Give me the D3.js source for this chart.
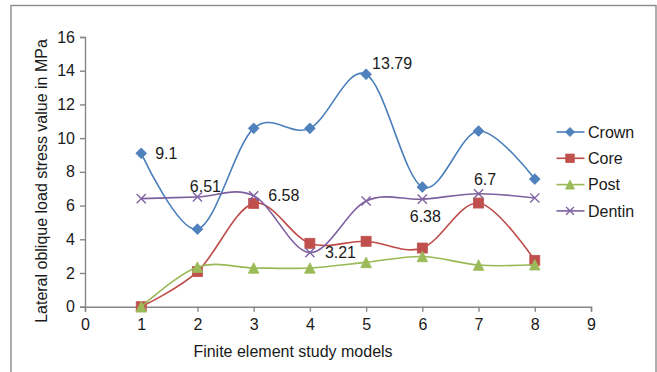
<!DOCTYPE html>
<html>
<head>
<meta charset="utf-8">
<script src="https://cdn.jsdelivr.net/npm/d3@7/dist/d3.min.js"></script>
<style>
  html, body { margin: 0; padding: 0; background: #fff; }
  svg { display: block; font-family: "Liberation Sans", Arial, sans-serif; }
</style>
</head>
<body>
<svg id="chart" width="657" height="372"></svg>
<script>
// ---- data ----
const models = [1, 2, 3, 4, 5, 6, 7, 8];
const seriesNames = ["Crown", "Core", "Post", "Dentin"];
const crown  = [9.1, 4.6, 10.58, 10.58, 13.79, 7.1, 10.42, 7.57];
const core   = [0, 2.08, 6.13, 3.76, 3.88, 3.48, 6.15, 2.75];
const post   = [0, 2.35, 2.3, 2.3, 2.63, 2.98, 2.47, 2.49];
const dentin = [6.41, 6.51, 6.58, 3.21, 6.27, 6.38, 6.7, 6.45];
const xTicks = [0, 1, 2, 3, 4, 5, 6, 7, 8, 9];
const yTicks = [0, 2, 4, 6, 8, 10, 12, 14, 16];
const xTitle = "Finite element study models";
const yTitle = "Lateral oblique load stress value in MPa";
// data labels: [series, point index, text]
const dataLabels = [
  ["Crown", 0, "9.1"],
  ["Crown", 4, "13.79"],
  ["Dentin", 1, "6.51"],
  ["Dentin", 2, "6.58"],
  ["Dentin", 3, "3.21"],
  ["Dentin", 5, "6.38"],
  ["Dentin", 6, "6.7"]
];

// ---- styling ----
const valuesBy = { Crown: crown, Core: core, Post: post, Dentin: dentin };
const style = {
  Crown:  { line: "#4A7EBB", fill: "#4F81BD", marker: "diamond" },
  Core:   { line: "#BE4B48", fill: "#C0504D", marker: "square" },
  Post:   { line: "#98B954", fill: "#9BBB59", marker: "triangle" },
  Dentin: { line: "#7D60A0", fill: "#8064A2", marker: "x" }
};
// label placement offsets relative to point (style, not data)
const labelPlace = {
  "Crown-0":  { dx: 14, dy: 0, anchor: "start" },
  "Crown-4":  { dx: 6, dy: -11, anchor: "start" },
  "Dentin-1": { dx: 8, dy: -11, anchor: "middle" },
  "Dentin-2": { dx: 14.5, dy: 0, anchor: "start" },
  "Dentin-3": { dx: 15, dy: 0, anchor: "start" },
  "Dentin-5": { dx: 3, dy: 17.5, anchor: "middle" },
  "Dentin-6": { dx: 6.5, dy: -14.5, anchor: "middle" }
};

const svg = d3.select("#chart");
const font = "16px";
const axisColor = "#868686";
const textColor = "#1a1a1a";

// outer frame
svg.append("rect")
  .attr("x", 11).attr("y", 5.5)
  .attr("width", 645).attr("height", 400)
  .attr("fill", "none").attr("stroke", "#8a8a8a").attr("stroke-width", 1.4);

const x = d3.scaleLinear().domain([0, 9]).range([85, 591]);
const y = d3.scaleLinear().domain([0, 16]).range([306.7, 37]);

// y axis
const yAxis = svg.append("g")
  .attr("transform", `translate(${x(0)},0)`)
  .call(d3.axisLeft(y).tickValues(yTicks).tickSize(5).tickPadding(5).tickFormat(d3.format("d")));
// x axis
const xAxis = svg.append("g")
  .attr("transform", `translate(0,${y(0)})`)
  .call(d3.axisBottom(x).tickValues(xTicks).tickSize(5).tickPadding(7).tickFormat(d3.format("d")));

[yAxis, xAxis].forEach(g => {
  g.select(".domain").attr("stroke", axisColor).attr("stroke-width", 1.4);
  g.selectAll(".tick line").attr("stroke", axisColor).attr("stroke-width", 1.4);
  g.selectAll(".tick text").attr("fill", textColor).style("font-size", font)
    .style("font-family", '"Liberation Sans", Arial, sans-serif');
});

// axis titles
svg.append("text")
  .attr("x", x(4.5) - 45).attr("y", 357)
  .attr("text-anchor", "middle")
  .attr("fill", textColor).style("font-size", font)
  .text(xTitle);
svg.append("text")
  .attr("transform", "translate(47,181) rotate(-90)")
  .attr("text-anchor", "middle")
  .attr("fill", textColor).style("font-size", font)
  .text(yTitle);

// marker drawing
function drawMarker(g, type, cx, cy, st, scale) {
  const s = scale || 1;
  if (type === "diamond") {
    const r = 5.4 * s;
    g.append("path")
      .attr("d", `M${cx},${cy - r}L${cx + r},${cy}L${cx},${cy + r}L${cx - r},${cy}Z`)
      .attr("fill", st.fill).attr("stroke", st.fill).attr("stroke-width", 0.8);
  } else if (type === "square") {
    const h = 5 * s;
    g.append("rect")
      .attr("x", cx - h).attr("y", cy - h).attr("width", 2 * h).attr("height", 2 * h)
      .attr("fill", st.fill).attr("stroke", st.fill).attr("stroke-width", 0.8);
  } else if (type === "triangle") {
    const h = 5.3 * s;
    g.append("path")
      .attr("d", `M${cx},${cy - h}L${cx + h},${cy + h}L${cx - h},${cy + h}Z`)
      .attr("fill", st.fill).attr("stroke", st.fill).attr("stroke-width", 0.8);
  } else if (type === "x") {
    const h = 4.6 * s;
    g.append("path")
      .attr("d", `M${cx - h},${cy - h}L${cx + h},${cy + h}M${cx - h},${cy + h}L${cx + h},${cy - h}`)
      .attr("fill", "none").attr("stroke", st.fill).attr("stroke-width", 1.4);
  }
}

const line = d3.line()
  .x((d, i) => x(models[i]))
  .y(d => y(d))
  .curve(d3.curveCardinal.tension(0));

seriesNames.forEach(name => {
  const st = style[name];
  const g = svg.append("g");
  g.append("path")
    .datum(valuesBy[name])
    .attr("d", line)
    .attr("fill", "none")
    .attr("stroke", st.line)
    .attr("stroke-width", 1.6);
  valuesBy[name].forEach((v, i) => drawMarker(g, st.marker, x(models[i]), y(v), st));
});

// data labels
dataLabels.forEach(([name, i, txt]) => {
  const p = labelPlace[`${name}-${i}`];
  svg.append("text")
    .attr("x", x(models[i]) + p.dx)
    .attr("y", y(valuesBy[name][i]) + p.dy)
    .attr("dy", "0.35em")
    .attr("text-anchor", p.anchor)
    .attr("fill", textColor).style("font-size", font)
    .text(txt);
});

// legend
const legend = svg.append("g");
seriesNames.forEach((name, k) => {
  const st = style[name];
  const ly = 132 + k * 26.3;
  legend.append("line")
    .attr("x1", 556.5).attr("x2", 584.5).attr("y1", ly).attr("y2", ly)
    .attr("stroke", st.line).attr("stroke-width", 1.6);
  drawMarker(legend, st.marker, 570, ly, st, 0.85);
  legend.append("text")
    .attr("x", 588).attr("y", ly).attr("dy", "0.35em")
    .attr("fill", textColor).style("font-size", font)
    .text(name);
});
</script>
</body>
</html>
